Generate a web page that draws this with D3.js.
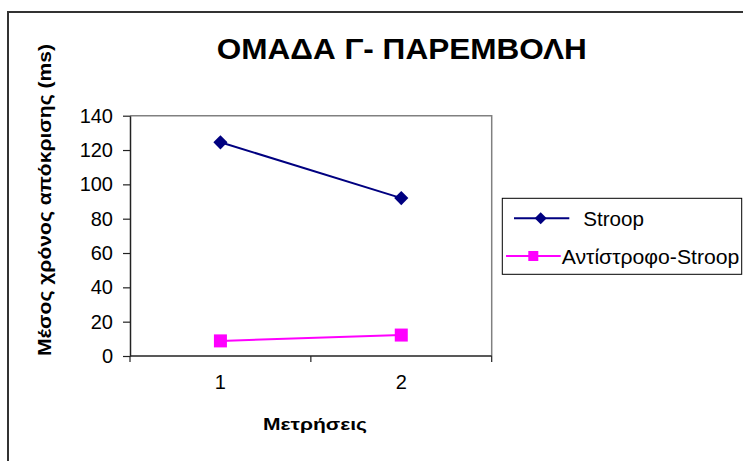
<!DOCTYPE html>
<html>
<head>
<meta charset="utf-8">
<script src="https://cdn.jsdelivr.net/npm/d3@7"></script>
<style>
  html, body { margin: 0; padding: 0; background: #fff; }
  svg { display: block; }
  text { font-family: "Liberation Sans", Arial, sans-serif; fill: #000; }
</style>
</head>
<body>
<svg id="chart" width="743" height="461"></svg>
<script>
// Measurements (Μετρήσεις) and mean response times per task
const categories = ["1", "2"];
const seriesNames = ["Stroop", "Αντίστροφο-Stroop"];
const stroopValues = [124.5, 92];
const reverseStroopValues = [8.8, 12.2];
const yTickValues = [0, 20, 40, 60, 80, 100, 120, 140];

const svg = d3.select("#chart");

// outer chart frame (continues past the right and bottom edges)
svg.append("rect")
  .attr("x", 8).attr("y", 12)
  .attr("width", 800).attr("height", 500)
  .attr("fill", "#fff")
  .attr("stroke", "#333").attr("stroke-width", 2);

const plot = { left: 130, right: 491.7, top: 115.7, bottom: 356 };

const x = d3.scaleBand().domain(categories).range([plot.left, plot.right]).padding(0);
const y = d3.scaleLinear().domain([0, 140]).range([plot.bottom, plot.top]);

// plot area frame: grey top and right edges
svg.append("path")
  .attr("d", `M${plot.left},${plot.top}H${plot.right}V${plot.bottom}`)
  .attr("fill", "none").attr("stroke", "#808080").attr("stroke-width", 1.5);

// y axis
const yAxis = svg.append("g")
  .attr("transform", `translate(${plot.left},0)`)
  .call(d3.axisLeft(y).tickValues(yTickValues).tickSize(7).tickPadding(10).tickSizeOuter(0));
yAxis.select(".domain").attr("stroke", "#222").attr("stroke-width", 1.5);
yAxis.selectAll(".tick line").attr("stroke", "#222").attr("stroke-width", 1.2);
yAxis.selectAll(".tick text")
  .attr("font-family", "'Liberation Sans', Arial, sans-serif")
  .attr("font-size", 20).attr("fill", "#000");

// x axis: ticks on category boundaries, labels at band centres
const xAxisG = svg.append("g").attr("transform", `translate(0,${plot.bottom})`);
xAxisG.append("line")
  .attr("x1", plot.left).attr("x2", plot.right)
  .attr("stroke", "#222").attr("stroke-width", 1.5);
const boundaries = categories.map(c => x(c)).concat([x(categories[categories.length - 1]) + x.bandwidth()]);
xAxisG.selectAll("line.tick").data(boundaries).join("line")
  .attr("class", "tick")
  .attr("x1", d => d).attr("x2", d => d)
  .attr("y1", 0).attr("y2", 6)
  .attr("stroke", "#222").attr("stroke-width", 1.2);
xAxisG.selectAll("text").data(categories).join("text")
  .attr("x", d => x(d) + x.bandwidth() / 2)
  .attr("y", 33)
  .attr("text-anchor", "middle")
  .attr("font-size", 20)
  .text(d => d);

const cx = c => x(c) + x.bandwidth() / 2;
const line = d3.line().x((d, i) => cx(categories[i])).y(d => y(d));

// Stroop series (navy, diamond markers)
svg.append("path").datum(stroopValues)
  .attr("d", line).attr("fill", "none")
  .attr("stroke", "#000080").attr("stroke-width", 2);
const diamond = d3.symbol().type(d3.symbolSquare).size(100);
svg.selectAll("path.stroop-pt").data(stroopValues).join("path")
  .attr("class", "stroop-pt")
  .attr("d", diamond)
  .attr("transform", (d, i) => `translate(${cx(categories[i])},${y(d)}) rotate(45)`)
  .attr("fill", "#000080");

// Reverse Stroop series (magenta, square markers)
svg.append("path").datum(reverseStroopValues)
  .attr("d", line).attr("fill", "none")
  .attr("stroke", "#FF00FF").attr("stroke-width", 2);
svg.selectAll("rect.rev-pt").data(reverseStroopValues).join("rect")
  .attr("class", "rev-pt")
  .attr("x", (d, i) => cx(categories[i]) - 6.5)
  .attr("y", d => y(d) - 6.5)
  .attr("width", 13).attr("height", 13)
  .attr("fill", "#FF00FF");

// title
svg.append("text")
  .attr("x", 401.7).attr("y", 59)
  .attr("text-anchor", "middle")
  .attr("font-size", 29).attr("font-weight", "bold")
  .attr("textLength", 370).attr("lengthAdjust", "spacingAndGlyphs")
  .text("ΟΜΑΔΑ Γ- ΠΑΡΕΜΒΟΛΗ");

// axis titles
svg.append("text")
  .attr("x", 315).attr("y", 430)
  .attr("text-anchor", "middle")
  .attr("font-family", "'DejaVu Sans', sans-serif")
  .attr("font-size", 17).attr("font-weight", "bold")
  .attr("textLength", 104).attr("lengthAdjust", "spacingAndGlyphs")
  .text("Μετρήσεις");

svg.append("text")
  .attr("transform", "translate(50.5,200) rotate(-90)")
  .attr("text-anchor", "middle")
  .attr("font-family", "'DejaVu Sans', sans-serif")
  .attr("font-size", 17.5).attr("font-weight", "bold")
  .attr("textLength", 312).attr("lengthAdjust", "spacingAndGlyphs")
  .text("Μέσος χρόνος απόκρισης (ms)");

// legend
const legend = svg.append("g");
legend.append("rect")
  .attr("x", 502.3).attr("y", 198.3)
  .attr("width", 239.4).attr("height", 76)
  .attr("fill", "#fff").attr("stroke", "#000").attr("stroke-width", 1);

const legendRows = [
  { name: seriesNames[0], color: "#000080", y: 218.3, x1: 514, x2: 569.3, mx: 540.7, tx: 583.3, tl: 60.7, shape: "diamond" },
  { name: seriesNames[1], color: "#FF00FF", y: 256, x1: 506, x2: 560.7, mx: 533.3, tx: 561.7, tl: 177.6, shape: "square" }
];
legendRows.forEach(r => {
  legend.append("line")
    .attr("x1", r.x1).attr("x2", r.x2).attr("y1", r.y).attr("y2", r.y)
    .attr("stroke", r.color).attr("stroke-width", 2);
  if (r.shape === "diamond") {
    legend.append("path")
      .attr("d", d3.symbol().type(d3.symbolSquare).size(72))
      .attr("transform", `translate(${r.mx},${r.y}) rotate(45)`)
      .attr("fill", r.color);
  } else {
    legend.append("rect")
      .attr("x", r.mx - 5).attr("y", r.y - 5).attr("width", 10).attr("height", 10)
      .attr("fill", r.color);
  }
  legend.append("text")
    .attr("x", r.tx).attr("y", r.y + 7.5)
    .attr("font-size", 20.5)
    .attr("textLength", r.tl).attr("lengthAdjust", "spacingAndGlyphs")
    .text(r.name);
});
</script>
</body>
</html>
